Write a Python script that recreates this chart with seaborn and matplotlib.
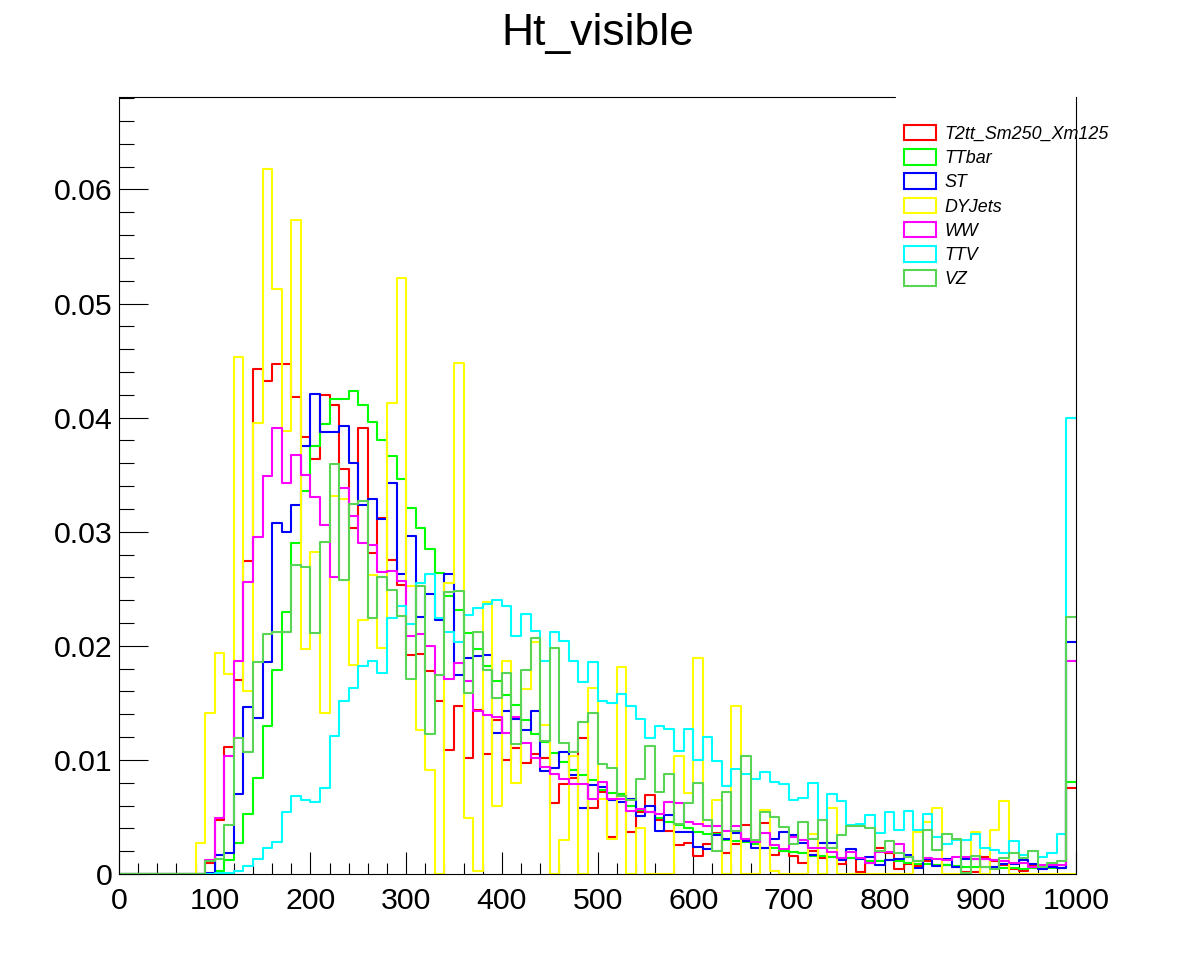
import numpy as np
import pandas as pd
import matplotlib
matplotlib.use("Agg")
import matplotlib.pyplot as plt
import seaborn as sns
from matplotlib.patches import Rectangle
from matplotlib.ticker import MultipleLocator

# ---------------- data (normalised bin contents, 100 bins of width 10 over 0..1000) -------------
bin_width = 10
x_range = (0, 1000)

t2tt = [
    0, 0, 0, 0, 0, 0, 0, 0, 0, 0.0010,
    0.0047, 0.0111, 0.0170, 0.0274, 0.0443, 0.0432, 0.0447, 0.0447, 0.0418, 0.0383,
    0.0364, 0.0420, 0.0411, 0.0355, 0.0303, 0.0391, 0.0281, 0.0312, 0.0275, 0.0253,
    0.0192, 0.0193, 0.0178, 0.0152, 0.0109, 0.0147, 0.0102, 0.0144, 0.0105, 0.0135,
    0.0100, 0.0110, 0.0097, 0.0105, 0.0102, 0.0062, 0.0079, 0.0084, 0.0119, 0.0058,
    0.0072, 0.0032, 0.0070, 0.0037, 0.0054, 0.0069, 0.0047, 0.0038, 0.0025, 0.0027,
    0.0016, 0.0026, 0.0036, 0.0018, 0.0026, 0.0043, 0.0027, 0.0045, 0.0017, 0.0020,
    0.0016, 0.0010, 0.0020, 0.0014, 0.0015, 0.0009, 0.0014, 0.0002, 0.0010, 0.0023,
    0.0018, 0.0004, 0.0009, 0.0007, 0.0011, 0.0008, 0.0008, 0.0006, 0.0002, 0.0002,
    0.0015, 0.0011, 0.0008, 0.0004, 0.0003, 0.0008, 0.0004, 0.0007, 0.0005, 0.0075]

ttbar = [
    0, 0, 0, 0, 0, 0, 0, 0, 0, 0,
    0.0003, 0.0012, 0.0027, 0.0053, 0.0084, 0.0130, 0.0179, 0.0230, 0.0290, 0.0336,
    0.0375, 0.0394, 0.0416, 0.0416, 0.0423, 0.0411, 0.0396, 0.0380, 0.0366, 0.0346,
    0.0321, 0.0303, 0.0285, 0.0264, 0.0244, 0.0231, 0.0211, 0.0197, 0.0182, 0.0169,
    0.0157, 0.0148, 0.0135, 0.0123, 0.0116, 0.0106, 0.0098, 0.0091, 0.0087, 0.0082,
    0.0074, 0.0071, 0.0070, 0.0060, 0.0056, 0.0054, 0.0049, 0.0046, 0.0043, 0.0040,
    0.0037, 0.0035, 0.0035, 0.0030, 0.0029, 0.0028, 0.0026, 0.0023, 0.0023, 0.0020,
    0.0019, 0.0018, 0.0016, 0.0016, 0.0015, 0.0014, 0.0014, 0.0013, 0.0011, 0.0011,
    0.0012, 0.0011, 0.0010, 0.0009, 0.0009, 0.0008, 0.0008, 0.0007, 0.0006, 0.0006,
    0.0006, 0.0005, 0.0005, 0.0005, 0.0004, 0.0005, 0.0005, 0.0005, 0.0005, 0.0081]

st = [
    0, 0, 0, 0, 0, 0, 0, 0, 0, 0.0001,
    0.0017, 0.0018, 0.0070, 0.0146, 0.0137, 0.0186, 0.0308, 0.0300, 0.0323, 0.0375,
    0.0421, 0.0387, 0.0387, 0.0393, 0.0360, 0.0323, 0.0329, 0.0311, 0.0343, 0.0263,
    0.0296, 0.0225, 0.0245, 0.0223, 0.0263, 0.0174, 0.0189, 0.0191, 0.0192, 0.0124,
    0.0143, 0.0136, 0.0126, 0.0143, 0.0090, 0.0093, 0.0107, 0.0087, 0.0058, 0.0078,
    0.0076, 0.0065, 0.0063, 0.0066, 0.0051, 0.0060, 0.0038, 0.0052, 0.0037, 0.0037,
    0.0024, 0.0022, 0.0034, 0.0031, 0.0036, 0.0029, 0.0023, 0.0023, 0.0031, 0.0037,
    0.0034, 0.0027, 0.0017, 0.0027, 0.0027, 0.0012, 0.0022, 0.0013, 0.0015, 0.0008,
    0.0012, 0.0013, 0.0017, 0.0005, 0.0013, 0.0007, 0.0013, 0.0006, 0.0013, 0.0013,
    0.0013, 0.0006, 0.0009, 0.0009, 0.0012, 0.0009, 0.0004, 0.0006, 0.0005, 0.0203]

dyjets = [
    0, 0, 0, 0, 0, 0, 0, 0, 0.0027, 0.0141,
    0.0194, 0.0175, 0.0453, 0.0160, 0.0395, 0.0618, 0.0513, 0.0388, 0.0573, 0.0197,
    0.0282, 0.0141, 0.0331, 0.0329, 0.0183, 0.0223, 0.0262, 0.0198, 0.0413, 0.0522,
    0.0252, 0.0126, 0.0091, 0, 0.0255, 0.0448, 0.0049, 0.0003, 0.0238, 0.0060,
    0.0187, 0.0080, 0.0162, 0.0203, 0.0131, 0, 0.0030, 0.0103, 0, 0.0163,
    0.0066, 0.0031, 0.0181, 0, 0.0040, 0, 0, 0, 0.0103, 0.0071,
    0.0189, 0.0042, 0.0065, 0, 0.0147, 0, 0, 0.0056, 0.0003, 0,
    0, 0, 0.0035, 0, 0.0058, 0, 0, 0, 0, 0,
    0, 0, 0, 0.0037, 0.0046, 0.0058, 0, 0, 0, 0.0037,
    0, 0.0039, 0.0064, 0, 0, 0, 0, 0, 0, 0]

ww = [
    0, 0, 0, 0, 0, 0, 0, 0, 0, 0.0012,
    0.0049, 0.0103, 0.0187, 0.0256, 0.0295, 0.0349, 0.0391, 0.0343, 0.0367, 0.0350,
    0.0330, 0.0306, 0.0260, 0.0338, 0.0314, 0.0290, 0.0288, 0.0265, 0.0266, 0.0257,
    0.0209, 0.0210, 0.0200, 0.0174, 0.0171, 0.0185, 0.0169, 0.0143, 0.0139, 0.0138,
    0.0124, 0.0138, 0.0115, 0.0102, 0.0094, 0.0088, 0.0083, 0.0079, 0.0079, 0.0066,
    0.0081, 0.0066, 0.0066, 0.0055, 0.0057, 0.0054, 0.0053, 0.0063, 0.0062, 0.0046,
    0.0044, 0.0042, 0.0042, 0.0038, 0.0042, 0.0031, 0.0028, 0.0036, 0.0025, 0.0022,
    0.0032, 0.0030, 0.0023, 0.0023, 0.0019, 0.0014, 0.0019, 0.0014, 0.0010, 0.0019,
    0.0019, 0.0026, 0.0015, 0.0011, 0.0014, 0.0013, 0.0012, 0.0015, 0.0015, 0.0013,
    0.0013, 0.0012, 0.0011, 0.0010, 0.0010, 0.0006, 0.0008, 0.0008, 0.0008, 0.0187]

ttv = [
    0, 0, 0, 0, 0, 0, 0, 0, 0, 0,
    0.0001, 0.0001, 0.0003, 0.0007, 0.0013, 0.0023, 0.0028, 0.0054, 0.0068, 0.0065,
    0.0063, 0.0075, 0.0121, 0.0152, 0.0163, 0.0182, 0.0187, 0.0176, 0.0224, 0.0235,
    0.0219, 0.0255, 0.0263, 0.0224, 0.0212, 0.0203, 0.0227, 0.0233, 0.0237, 0.0240,
    0.0235, 0.0209, 0.0228, 0.0213, 0.0187, 0.0212, 0.0204, 0.0187, 0.0168, 0.0186,
    0.0152, 0.0150, 0.0158, 0.0147, 0.0136, 0.0119, 0.0130, 0.0127, 0.0108, 0.0127,
    0.0100, 0.0120, 0.0099, 0.0077, 0.0092, 0.0088, 0.0083, 0.0089, 0.0081, 0.0079,
    0.0065, 0.0067, 0.0080, 0.0047, 0.0070, 0.0064, 0.0043, 0.0044, 0.0052, 0.0036,
    0.0054, 0.0039, 0.0055, 0.0039, 0.0053, 0.0032, 0.0026, 0.0030, 0.0030, 0.0035,
    0.0023, 0.0021, 0.0018, 0.0029, 0.0017, 0.0020, 0.0015, 0.0018, 0.0035, 0.0400]

vz = [
    0, 0, 0, 0, 0, 0, 0, 0, 0, 0.0011,
    0.0013, 0.0043, 0.0119, 0.0107, 0.0186, 0.0210, 0.0212, 0.0212, 0.0271, 0.0269,
    0.0211, 0.0291, 0.0359, 0.0258, 0.0324, 0.0327, 0.0224, 0.0260, 0.0249, 0.0226,
    0.0171, 0.0252, 0.0123, 0.0174, 0.0247, 0.0248, 0.0159, 0.0212, 0.0179, 0.0154,
    0.0176, 0.0114, 0.0179, 0.0207, 0.0117, 0.0198, 0.0115, 0.0107, 0.0133, 0.0141,
    0.0096, 0.0093, 0.0068, 0.0065, 0.0083, 0.0112, 0.0072, 0.0088, 0.0044, 0.0062,
    0.0080, 0.0047, 0.0020, 0.0072, 0.0038, 0.0103, 0.0030, 0.0054, 0.0050, 0.0041,
    0.0026, 0.0046, 0.0031, 0.0047, 0.0023, 0.0034, 0.0042, 0.0042, 0.0040, 0.0020,
    0.0029, 0.0018, 0.0015, 0.0011, 0.0039, 0.0021, 0.0035, 0.0031, 0.0001, 0.0016,
    0.0006, 0.0004, 0.0014, 0.0018, 0.0014, 0.0020, 0.0006, 0.0010, 0.0011, 0.0225]

sample_names = ["T2tt_Sm250_Xm125", "TTbar", "ST", "DYJets", "WW", "TTV", "VZ"]
sample_values = [t2tt, ttbar, st, dyjets, ww, ttv, vz]
sample_colors = ["#FF0000", "#00FF00", "#0000FF", "#FFFF00", "#FF00FF", "#00FFFF", "#59D454"]

xtick_values = [0, 100, 200, 300, 400, 500, 600, 700, 800, 900, 1000]
xtick_labels = ["0", "100", "200", "300", "400", "500", "600", "700", "800", "900", "1000"]
ytick_values = [0, 0.01, 0.02, 0.03, 0.04, 0.05, 0.06]
ytick_labels = ["0", "0.01", "0.02", "0.03", "0.04", "0.05", "0.06"]

# ---------------- plotting -------------
sns.set_style("white")
plt.rcParams["font.family"] = ["Liberation Sans", "DejaVu Sans"]
plt.rcParams["text.color"] = "black"
plt.rcParams["axes.labelcolor"] = "black"
plt.rcParams["xtick.color"] = "black"
plt.rcParams["ytick.color"] = "black"

W, H = 1196, 972
fig = plt.figure(figsize=(W / 100, H / 100), dpi=100)
ax = fig.add_axes([119 / W, 98 / H, 957 / W, 777 / H])

n_bins = len(t2tt)
bin_centers = x_range[0] + bin_width * (np.arange(n_bins) + 0.5)
for name, vals, col in zip(sample_names, sample_values, sample_colors):
    assert len(vals) == n_bins, name
    df = pd.DataFrame({"x": bin_centers, "w": vals})
    sns.histplot(data=df, x="x", weights="w", binwidth=bin_width, binrange=x_range,
                 element="step", fill=False, color=col, linewidth=1.5, ax=ax)

ax.set_xlim(*x_range)
ax.set_ylim(0, 0.0681)
ax.set_xlabel("")
ax.set_ylabel("")

ax.set_xticks(xtick_values)
ax.set_xticklabels(xtick_labels)
ax.set_yticks(ytick_values)
ax.set_yticklabels(ytick_labels)
ax.xaxis.set_minor_locator(MultipleLocator(20))
ax.yaxis.set_minor_locator(MultipleLocator(0.002))

ax.tick_params(axis="x", which="major", direction="in", length=15.8, width=0.8,
               pad=9, labelsize=21.8, top=False, bottom=True, colors="black")
ax.tick_params(axis="x", which="minor", direction="in", length=7.9, width=0.8,
               top=False, bottom=True)
ax.tick_params(axis="y", which="major", direction="in", length=20.9, width=0.8,
               pad=4.5, labelsize=21.8, right=False, left=True, colors="black")
ax.tick_params(axis="y", which="minor", direction="in", length=10.8, width=0.8,
               right=False, left=True)

for s in ["left", "bottom", "right"]:
    ax.spines[s].set_color("black")
    ax.spines[s].set_linewidth(0.8)
ax.spines["top"].set_visible(False)
# top frame line is hidden behind the legend box on the right
ax.plot([0, 0.811], [1, 1], transform=ax.transAxes, color="black", lw=0.8, clip_on=False)

handles = [Rectangle((0, 0), 1, 1, facecolor="none", edgecolor=c, linewidth=1.5)
           for c in sample_colors]
leg = ax.legend(handles, sample_names, loc="upper left",
                bbox_to_anchor=(895 / W, 1 - 116 / H), bbox_transform=fig.transFigure,
                frameon=False, prop={"style": "italic", "size": 12.9},
                handlelength=1.8, handleheight=0.95, handletextpad=0.45,
                labelspacing=0.355, borderpad=0.5, borderaxespad=0)
for t in leg.get_texts():
    t.set_color("black")

fig.text(0.5, 1 - 34 / H, "Ht_visible", ha="center", va="center", fontsize=32,
         color="black")

fig.savefig("out.png", dpi=100, facecolor="white")
